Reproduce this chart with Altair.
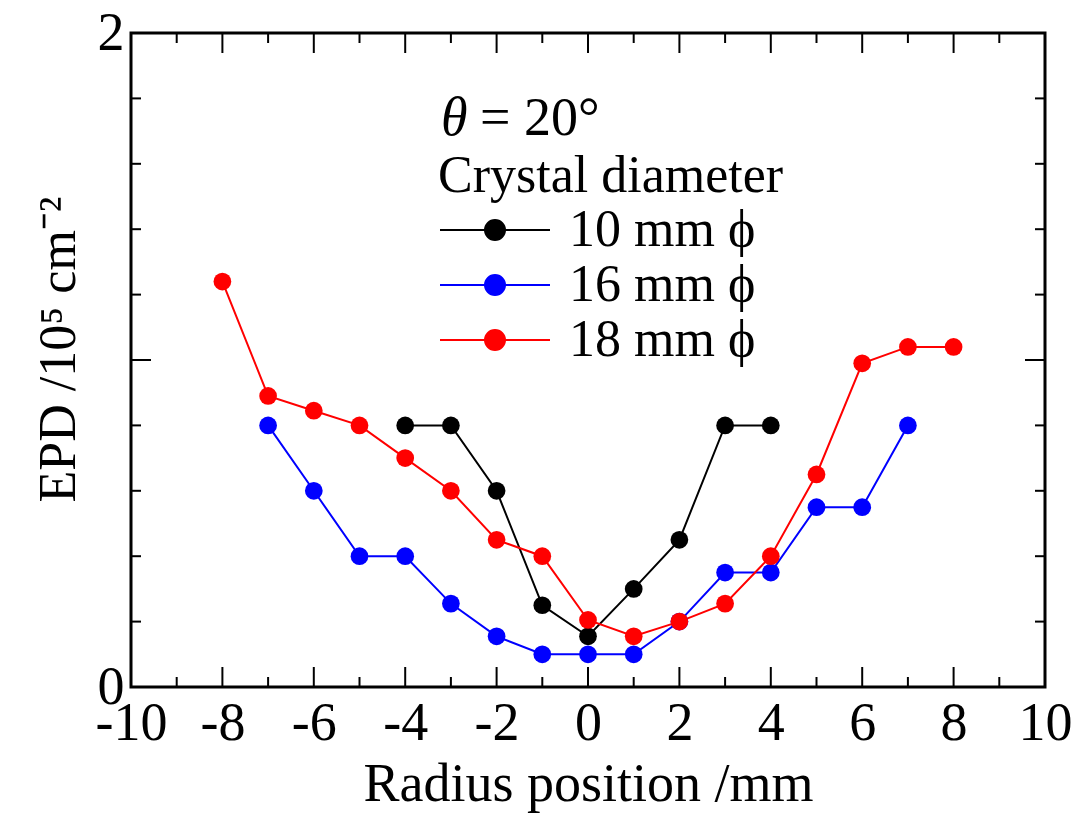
import altair as alt
import pandas as pd

# ---- data ----
x_black = [-4, -3, -2, -1, 0, 1, 2, 3, 4]
y_black = [0.8, 0.8, 0.6, 0.25, 0.155, 0.3, 0.45, 0.8, 0.8]
x_blue = [-7, -6, -5, -4, -3, -2, -1, 0, 1, 2, 3, 4, 5, 6, 7]
y_blue = [0.8, 0.6, 0.4, 0.4, 0.255, 0.155, 0.1, 0.1, 0.1, 0.2, 0.35, 0.35, 0.55, 0.55, 0.8]
x_red = [-8, -7, -6, -5, -4, -3, -2, -1, 0, 1, 2, 3, 4, 5, 6, 7, 8]
y_red = [1.24, 0.89, 0.845, 0.8, 0.7, 0.6, 0.45, 0.4, 0.205, 0.155, 0.2, 0.255, 0.4, 0.65, 0.99, 1.04, 1.04]
series_names = ["10 mm ϕ", "16 mm ϕ", "18 mm ϕ"]
series_colors = ["#000000", "#0000ff", "#ff0000"]

x_major = [-10, -8, -6, -4, -2, 0, 2, 4, 6, 8, 10]
x_minor = [-9, -7, -5, -3, -1, 1, 3, 5, 7, 9]
y_major = [0, 1, 2]
y_minor = [0.2, 0.4, 0.6, 0.8, 1.2, 1.4, 1.6, 1.8]

theta_sym = ["θ"]
theta_rest = ["= 20°"]
legend_title = "Crystal diameter"
x_title = "Radius position /mm"
y_title = "EPD /10⁵ cm⁻²"

FONT = "Liberation Serif"
W, H = 914, 654
FS = 54
LFS = 52

rows = []
for name, xs, ys in zip(series_names, [x_black, x_blue, x_red], [y_black, y_blue, y_red]):
    for xv, yv in zip(xs, ys):
        rows.append({"series": name, "x": xv, "y": yv})
df = pd.DataFrame(rows)

xscale = alt.Scale(domain=[-10, 10], nice=False, zero=False)
yscale = alt.Scale(domain=[0, 2], nice=False, zero=False)
cscale = alt.Scale(domain=series_names, range=series_colors)

xaxis = alt.Axis(values=x_major, ticks=False, domain=False, grid=False,
                 labelExpr="datum.value < 0 ? '-' + abs(datum.value) : '' + datum.value",
                 labelFont=FONT, labelFontSize=FS, labelColor="black", labelPadding=9,
                 labelFlush=False,
                 title=x_title, titleFont=FONT, titleFontSize=FS, titleFontWeight="normal",
                 titleColor="black", titleBaseline="alphabetic", titleY=113)
yaxis = alt.Axis(values=y_major, ticks=False, domain=False, grid=False, format="d",
                 labelFont=FONT, labelFontSize=FS, labelColor="black", labelPadding=7,
                 labelFlush=False,
                 title=y_title, titleFont=FONT, titleFontSize=52, titleFontWeight="normal",
                 titleColor="black", titleAngle=270, titleBaseline="alphabetic",
                 titleAlign="center", titleX=-57, titleY=316)

leg = alt.Legend(orient="none", legendX=307, legendY=118, padding=0,
                 title=legend_title, titleFont=FONT, titleFontSize=LFS, titleFontWeight="normal",
                 titleColor="black", titlePadding=1, titleLimit=0,
                 labelFont=FONT, labelFontSize=LFS, labelColor="black", labelOffset=79,
                 labelLimit=0,
                 symbolType="M-2.4,0L8.6,0M2.1,0A1,1,0,1,0,4.1,0A1,1,0,1,0,2.1,0Z",
                 symbolSize=400, symbolStrokeWidth=2, rowPadding=3)

lines = alt.Chart(df).mark_line(strokeWidth=2).encode(
    x=alt.X("x:Q", scale=xscale, axis=xaxis),
    y=alt.Y("y:Q", scale=yscale, axis=yaxis),
    stroke=alt.Stroke("series:N", scale=cscale, legend=leg),
    detail="series:N",
)
points = alt.Chart(df).mark_point(filled=True, size=314, opacity=1).encode(
    x=alt.X("x:Q", scale=xscale, axis=xaxis),
    y=alt.Y("y:Q", scale=yscale, axis=yaxis),
    fill=alt.Fill("series:N", scale=cscale, legend=leg),
)

xt = pd.DataFrame({"v": x_major + x_minor, "len": [40] * len(x_major) + [20] * len(x_minor)})
yt = pd.DataFrame({"v": y_major + y_minor, "len": [40] * len(y_major) + [20] * len(y_minor)})

def xticks(ypix):
    return alt.Chart(xt).mark_tick(orient="vertical", thickness=2, clip=True, color="black",
                                   opacity=1).encode(
        x=alt.X("v:Q", scale=xscale, axis=xaxis),
        y=alt.value(ypix),
        size=alt.Size("len:Q", scale=None, legend=None),
    )

def yticks(xpix):
    return alt.Chart(yt).mark_tick(orient="horizontal", thickness=2, clip=True, color="black",
                                   opacity=1).encode(
        y=alt.Y("v:Q", scale=yscale, axis=yaxis),
        x=alt.value(xpix),
        size=alt.Size("len:Q", scale=None, legend=None),
    )

frame = alt.Chart(pd.DataFrame({"k": [0]})).mark_rect(
    fill=None, stroke="black", strokeWidth=3, fillOpacity=0
).encode(x=alt.value(0), x2=alt.value(W), y=alt.value(0), y2=alt.value(H))

t1 = alt.Chart(pd.DataFrame({"t": theta_sym})).mark_text(
    font=FONT, fontSize=FS, fontStyle="italic", align="left", baseline="alphabetic", color="black"
).encode(x=alt.value(310), y=alt.value(102), text="t:N")
t2 = alt.Chart(pd.DataFrame({"t": theta_rest})).mark_text(
    font=FONT, fontSize=FS, align="left", baseline="alphabetic", color="black"
).encode(x=alt.value(349), y=alt.value(102), text="t:N")

chart = alt.layer(
    lines, points, xticks(H), xticks(0), yticks(0), yticks(W), frame, t1, t2
).properties(
    width=W, height=H,
    padding={"left": 131, "top": 33, "right": 32, "bottom": 128},
    autosize=alt.AutoSizeParams(type="none"),
).configure_view(stroke="black", strokeWidth=3).configure(background="white")

chart.save("out.html", embed_options={"renderer": "svg", "actions": False})
